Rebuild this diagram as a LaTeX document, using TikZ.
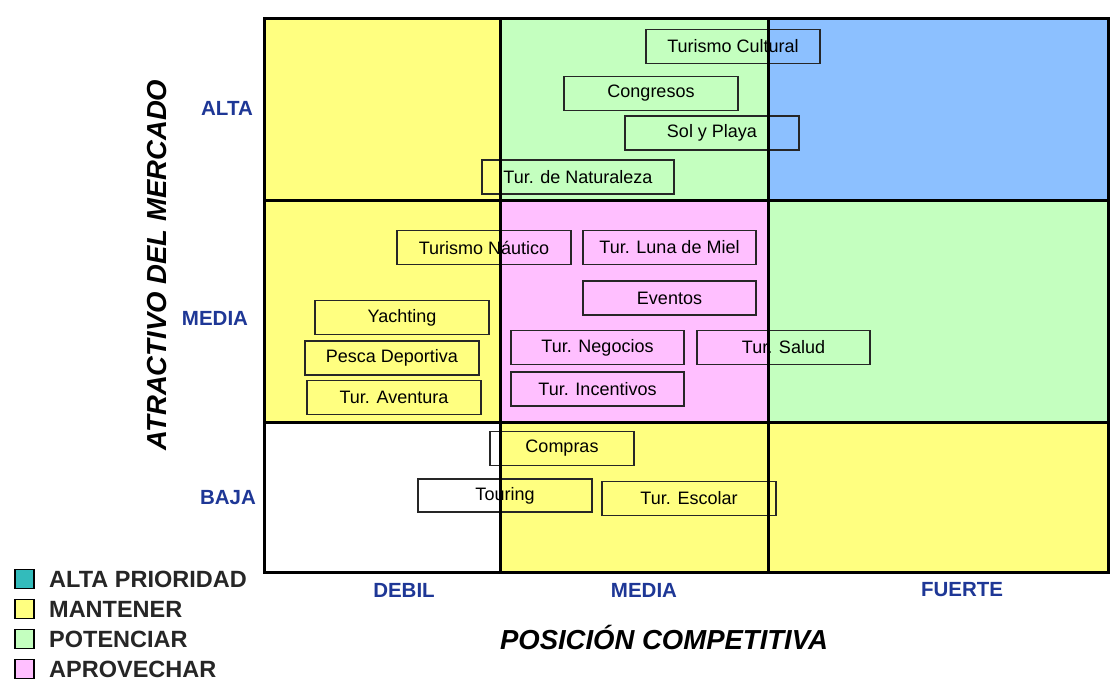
\documentclass[tikz,border=0pt]{standalone}
\usepackage{fontspec}
\setmainfont{Liberation Sans}
\definecolor{cyel}{HTML}{FFFF80}
\definecolor{cgrn}{HTML}{C4FFBF}
\definecolor{cpnk}{HTML}{FFBFFF}
\definecolor{cblu}{HTML}{8CC0FF}
\definecolor{cteal}{HTML}{33BBBB}
\definecolor{clab}{HTML}{1E3796}
\begin{document}
\begin{tikzpicture}[x=1pt,y=-1pt,
  item/.style={draw=black!85,line width=1.3pt,minimum height=34pt,minimum width=174pt,inner sep=0pt,
     font=\fontsize{18}{20}\selectfont},
  grid/.style={line width=3pt,black},
  lvl/.style={text=clab,font=\fontsize{20.5}{22}\selectfont\bfseries},
  axis/.style={font=\fontsize{27.5}{29}\selectfont\bfseries\itshape},
  leg/.style={draw=black,line width=1.3pt,minimum size=19pt,inner sep=0pt},
  legtext/.style={anchor=west,font=\fontsize{23.5}{25}\selectfont\bfseries,text=black!85,inner sep=0pt}]
\useasboundingbox (0,0) rectangle (1111,681);
\fill[white] (0,0) rectangle (1111,681);
% cells
\fill[cyel] (264,18) rectangle (500,200);
\fill[cgrn] (500,18) rectangle (768,200);
\fill[cblu] (768,18) rectangle (1108,200);
\fill[cyel] (264,200) rectangle (500,422);
\fill[cpnk] (500,200) rectangle (768,422);
\fill[cgrn] (768,200) rectangle (1108,422);
\fill[white] (264,422) rectangle (500,572);
\fill[cyel] (500,422) rectangle (1108,572);
% items
\node[item] (cultural) at (733,46.5) {Turismo Cultural};
\node[item] (congresos) at (651,93.5) {Congresos};
\node[item] (sol) at (712,133) {Sol y Playa};
\node[item,minimum width=192pt] (naturaleza) at (578,177) {Tur. de Naturaleza};
\node[item] (nautico) at (484,247.5) {Turismo Náutico};
\node[item,minimum width=173pt] (luna) at (669.5,247.5) {Tur. Luna de Miel};
\node[item,minimum width=173pt] (eventos) at (669.5,298) {Eventos};
\node[item] (yachting) at (402,317.5) {Yachting};
\node[item,minimum width=173pt] (negocios) at (597.5,347.5) {Tur. Negocios};
\node[item,minimum width=173pt] (salud) at (783.5,347.5) {Tur. Salud};
\node[item] (pesca) at (392,358) {Pesca Deportiva};
\node[item,minimum width=173pt] (incentivos) at (597.5,389) {Tur. Incentivos};
\node[item] (aventura) at (394,397.5) {Tur. Aventura};
\node[item,minimum width=144pt] (compras) at (562,448.5) {Compras};
\node[item,minimum height=33pt] (touring) at (505,495.5) {Touring};
\node[item] (escolar) at (689,498.5) {Tur. Escolar};
% grid
\draw[grid] (500,18) -- (500,572);
\draw[grid] (768,18) -- (768,572);
\draw[grid] (264,200) -- (1108,200);
\draw[grid] (264,422) -- (1108,422);
\draw[grid] (264,18) rectangle (1108,572);
% level labels
\node[lvl] (alta) at (227,108) {ALTA};
\node[lvl] (mediay) at (215,318) {MEDIA};
\node[lvl] (baja) at (228,498) {BAJA};
\node[lvl] (debil) at (404,590) {DEBIL};
\node[lvl] (mediax) at (644,590) {MEDIA};
\node[lvl] (fuerte) at (962,590) {FUERTE};
% axis titles
\node[axis,rotate=90] (ytitle) at (157,265) {ATRACTIVO DEL MERCADO};
\node[axis] (xtitle) at (664,637) {POSICIÓN COMPETITIVA};
% legend
\node[leg,fill=cteal] (l1) at (24.5,579) {};
\node[leg,fill=cyel] (l2) at (24.5,609) {};
\node[leg,fill=cgrn] (l3) at (24.5,639) {};
\node[leg,fill=cpnk] (l4) at (24.5,669) {};
\node[legtext] (t1) at (49,579) {ALTA PRIORIDAD};
\node[legtext] (t2) at (49,609) {MANTENER};
\node[legtext] (t3) at (49,639) {POTENCIAR};
\node[legtext] (t4) at (49,669) {APROVECHAR};
\end{tikzpicture}
\end{document}
